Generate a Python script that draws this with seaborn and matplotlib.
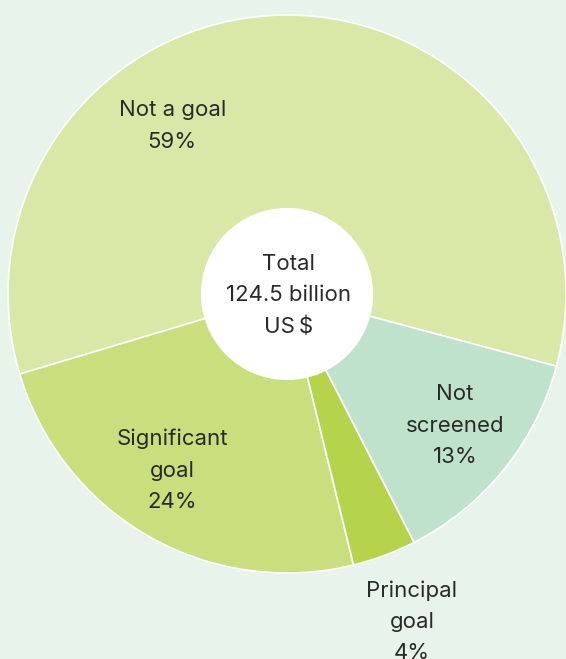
import matplotlib
matplotlib.use("Agg")
import matplotlib.pyplot as plt
import seaborn as sns

# Data
categories = ["Not a goal", "Significant goal", "Principal goal", "Not screened"]
shares = [58.8, 24.2, 3.7, 13.3]
share_labels = ["59%", "24%", "4%", "13%"]
label_text = ["Not a goal", "Significant\ngoal", "Principal\ngoal", "Not\nscreened"]
center_text = "Total\n124.5 billion\nUS\u2009$"

colors = ["#d9e8a7", "#c9de7c", "#b6d44b", "#bfe2cc"]
bg = "#e8f3eb"
text_color = "#2a2a2a"

sns.set_theme(style="white")
plt.rcParams["font.family"] = ["Inter", "DejaVu Sans"]

fig = plt.figure(figsize=(5.66, 6.59), dpi=100)
fig.patch.set_facecolor(bg)
ax = fig.add_axes([7 / 566, 85 / 659, 560 / 566, 560 / 659])
ax.set_facecolor(bg)

ax.pie(
    shares,
    colors=sns.color_palette(colors),
    startangle=-15,
    counterclock=True,
    radius=279 / 280,
    wedgeprops=dict(edgecolor="white", linewidth=1.2),
)
ax.add_patch(plt.Circle((0, 0), 0.305, color="white", zorder=3))

# label positions (axes data units)
label_pos = [(-0.41, 0.60), (-0.41, -0.63), (0.446, -1.17), (0.60, -0.47)]
for txt, pct, (x, y) in zip(label_text, share_labels, label_pos):
    ax.text(x, y, txt + "\n" + pct, ha="center", va="center",
            fontsize=16, color=text_color, linespacing=1.7, zorder=4)

ax.text(0.005, -0.005, center_text, ha="center", va="center",
        fontsize=16, color=text_color, linespacing=1.7, zorder=4)

ax.set_xlim(-1, 1)
ax.set_ylim(-1, 1)
ax.set_aspect("equal")
ax.axis("off")

plt.savefig("out.png", dpi=100, facecolor=bg)
